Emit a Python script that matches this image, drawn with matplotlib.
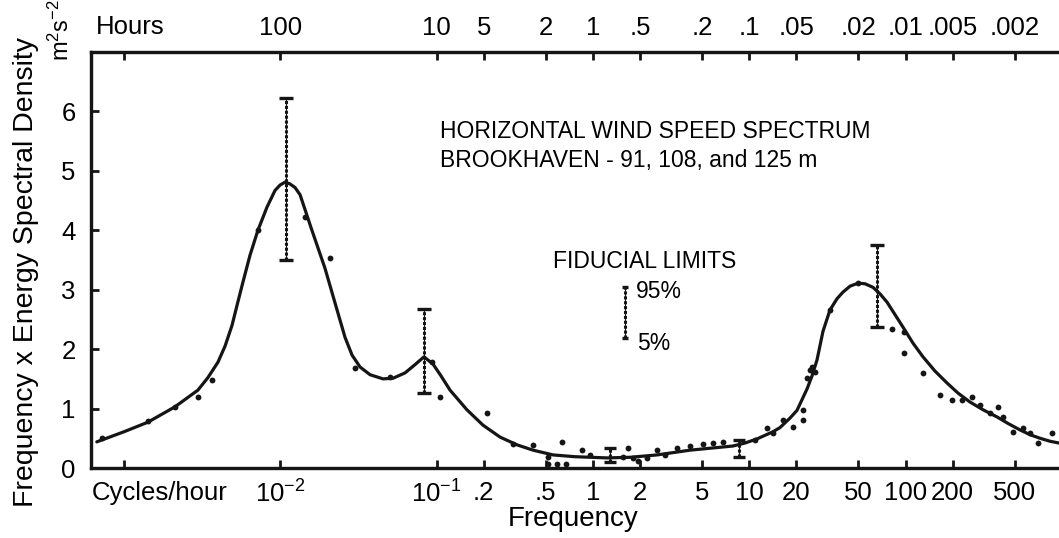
import matplotlib
matplotlib.use("Agg")
import matplotlib.pyplot as plt

plt.rcParams["font.family"] = ["Liberation Sans", "DejaVu Sans"]
plt.rcParams["mathtext.fontset"] = "custom"
plt.rcParams["mathtext.rm"] = "Liberation Sans"
plt.rcParams["mathtext.it"] = "Liberation Sans"
plt.rcParams["mathtext.bf"] = "Liberation Sans"
plt.rcParams["mathtext.default"] = "regular"

# Smoothed spectrum (frequency in cycles/hour, f*S(f) in m^2 s^-2)
curve_freq = [6.7e-4, 1.0e-3, 1.42e-3, 2.12e-3, 2.97e-3, 3.44e-3, 3.99e-3, 4.43e-3,
              4.91e-3, 5.36e-3, 5.77e-3, 6.40e-3, 7.19e-3, 8.22e-3, 9.25e-3, 9.95e-3,
              0.01072, 0.01153, 0.01242, 0.01337, 0.01439, 0.01570, 0.01718, 0.01932,
              0.02307, 0.02594, 0.02877, 0.03236, 0.0375, 0.0454, 0.0526, 0.0628,
              0.0728, 0.0830, 0.0948, 0.1067, 0.1219, 0.1563, 0.1982, 0.2547, 0.3266,
              0.4141, 0.5559, 0.767, 1.23, 1.726, 2.572, 4.178, 7.875, 9.40, 11.22,
              12.62, 14.19, 15.74, 18.24, 20.22, 23.44, 25.23, 27.16, 29.65, 32.88,
              36.5, 39.81, 44.2, 49.66, 55.1, 61.94, 68.7, 76.21, 85.7, 96.4, 111.7,
              129.4, 154.5, 184.4, 216.8, 258.6, 313.2, 384.6, 452.5, 540.7, 626.6,
              726.0, 841.0, 959.4]
curve_val = [0.44, 0.61, 0.77, 1.03, 1.31, 1.52, 1.78, 2.05,
             2.40, 2.80, 3.13, 3.58, 4.00, 4.39, 4.67, 4.76,
             4.81, 4.78, 4.72, 4.60, 4.35, 4.05, 3.75, 3.36,
             2.66, 2.20, 1.90, 1.70, 1.57, 1.50, 1.51, 1.60,
             1.74, 1.87, 1.75, 1.55, 1.31, 0.98, 0.72, 0.52, 0.39,
             0.30, 0.22, 0.19, 0.17, 0.18, 0.22, 0.30, 0.37, 0.42, 0.49,
             0.55, 0.61, 0.68, 0.84, 0.97, 1.33, 1.55, 1.82, 2.30, 2.66,
             2.85, 2.96, 3.06, 3.11, 3.10, 3.04, 2.93, 2.79, 2.58, 2.37, 2.10,
             1.87, 1.63, 1.43, 1.26, 1.11, 0.98, 0.86, 0.75, 0.64, 0.56,
             0.50, 0.45, 0.42]

# Individual spectral estimates
pts_freq = [7.23e-4, 1.425e-3, 2.12e-3, 2.97e-3, 3.66e-3, 7.19e-3, 0.01439, 0.0208,
            0.03006, 0.0503, 0.0935, 0.1052, 0.2099, 0.3083, 0.4141, 0.5164, 0.6334,
            0.8512, 0.9572, 0.516, 0.589, 0.673, 1.558, 1.678, 1.806, 1.944, 2.219,
            2.572, 2.893, 3.451, 4.178, 5.059, 5.865, 6.798, 10.89, 13.00, 14.19,
            16.45, 19.06, 22.09, 22.09, 23.44, 24.49, 25.23, 26.37, 32.88, 49.66,
            82.01, 97.8, 97.8, 129.4, 166.3, 198.3, 229.7, 266.1, 299.9, 347.5,
            390.8, 420.7, 487.5, 564.9, 626.6, 704.7, 865.5]
pts_val = [0.50, 0.79, 1.03, 1.19, 1.48, 4.00, 4.22, 3.53,
           1.68, 1.53, 1.78, 1.19, 0.92, 0.40, 0.39, 0.18, 0.44,
           0.30, 0.22, 0.06, 0.06, 0.06, 0.18, 0.34, 0.17, 0.12, 0.17,
           0.30, 0.22, 0.34, 0.37, 0.40, 0.42, 0.44, 0.47, 0.67, 0.59,
           0.81, 0.69, 0.81, 0.97, 1.51, 1.65, 1.70, 1.61, 2.66, 3.11,
           2.34, 2.29, 1.93, 1.60, 1.23, 1.14, 1.14, 1.19, 1.06, 0.92,
           1.03, 0.86, 0.61, 0.67, 0.59, 0.42, 0.59]

# Fiducial limits (5% / 95%) at selected frequencies
err_freq = [0.01088, 0.0830, 65.8, 1.29, 8.6]
err_low = [3.50, 1.26, 2.37, 0.10, 0.18]
err_high = [6.22, 2.67, 3.76, 0.34, 0.47]

# Reference bar for the fiducial-limit key
key_freq = [1.60]
key_low = [2.18]
key_high = [3.04]

# Axis ticks: frequency (bottom) and period (top)
freq_ticks = [1e-3, 1e-2, 0.1, 0.2, 0.5, 1, 2, 5, 10, 20, 50, 100, 200, 500]
freq_labels = ["", "$10^{-2}$", "$10^{-1}$", ".2", ".5", "1", "2", "5", "10", "20",
               "50", "100", "200", "500"]
hour_ticks = [1000, 100, 10, 5, 2, 1, 0.5, 0.2, 0.1, 0.05, 0.02, 0.01, 0.005, 0.002]
hour_labels = ["", "100", "10", "5", "2", "1", ".5", ".2", ".1", ".05", ".02", ".01",
               ".005", ".002"]
y_ticks = [0, 1, 2, 3, 4, 5, 6]

W, H = 1059, 538
fig = plt.figure(figsize=(W / 100, H / 100), dpi=100)
ax = fig.add_axes([91 / W, (H - 468) / H, 1 - 91 / W, (468 - 52) / H])

ink = "#151515"
ax.plot(curve_freq, curve_val, color=ink, lw=2.3, solid_joinstyle="round",
        solid_capstyle="round", zorder=3)
ax.plot(pts_freq, pts_val, "o", color=ink, ms=4.2, mec="none", zorder=4)


def fiducial(xs, lo, hi, cap):
    for x, a, b in zip(xs, lo, hi):
        ax.plot([x, x], [a, b], color=ink, lw=2.2, ls=(0, (1.0, 0.6)), zorder=5)
        ax.plot([x, x], [a, b], color=ink, lw=0.8, zorder=5)
        ax.plot([x], [a], marker="_", ms=cap * 2, mew=2.4, color=ink, zorder=6)
        ax.plot([x], [b], marker="_", ms=cap * 2, mew=2.4, color=ink, zorder=6)


fiducial(err_freq[:3], err_low[:3], err_high[:3], 5)
fiducial(err_freq[3:], err_low[3:], err_high[3:], 4)
fiducial(key_freq, key_low, key_high, 2.5)

ax.set_xscale("log")
ax.set_xlim(6.15e-4, 959.4)
ax.set_ylim(0, 7)
ax.minorticks_off()
ax.set_xticks(freq_ticks)
ax.set_xticklabels(freq_labels)
ax.set_yticks(y_ticks)
ax.tick_params(axis="both", direction="in", length=6, width=2, color=ink,
               labelsize=18.5, pad=9, labelcolor="black")
ax.tick_params(axis="y", pad=11)

top = ax.twiny()
top.set_xscale("log")
top.set_xlim(ax.get_xlim())
top.minorticks_off()
top.set_xticks([1.0 / h for h in hour_ticks])
top.set_xticklabels(hour_labels)
top.tick_params(axis="x", direction="in", length=6, width=2, color=ink,
                labelsize=18.5, pad=9)

for a in (ax, top):
    for side in ("left", "bottom", "top"):
        a.spines[side].set_linewidth(2.3)
        a.spines[side].set_color(ink)
    a.spines["right"].set_visible(False)

fig.text(96 / W, 1 - 27 / H, "Hours", fontsize=18.5, ha="left", va="center")
fig.text(92 / W, 1 - 493 / H, "Cycles/hour", fontsize=18.5, ha="left", va="center")
fig.text(573 / W, 1 - 519 / H, "Frequency", fontsize=20, ha="center", va="center")
fig.text(26 / W, 1 - 272 / H, "Frequency x Energy Spectral Density", fontsize=20.5,
         rotation=90, ha="center", va="center")
fig.text(61 / W, 1 - 30 / H, "m$^2$s$^{-2}$", fontsize=17, rotation=90,
         ha="center", va="center")

fig.text(440 / W, 1 - 131 / H, "HORIZONTAL WIND SPEED SPECTRUM", fontsize=16.5,
         ha="left", va="center")
fig.text(440 / W, 1 - 160 / H, "BROOKHAVEN - 91, 108, and 125 m", fontsize=16.5,
         ha="left", va="center")
fig.text(553 / W, 1 - 262 / H, "FIDUCIAL LIMITS", fontsize=16.5, ha="left", va="center")
fig.text(636 / W, 1 - 291 / H, "95%", fontsize=16.5, ha="left", va="center")
fig.text(637 / W, 1 - 343 / H, "5%", fontsize=16.5, ha="left", va="center")

fig.savefig("out.png", dpi=100, facecolor="white")
